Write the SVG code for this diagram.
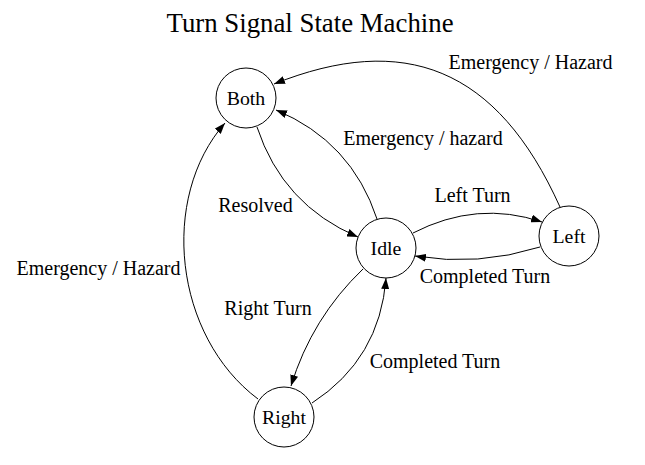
<svg xmlns="http://www.w3.org/2000/svg" width="645" height="465" viewBox="0 0 645 465">
<style>
text{font-family:"Liberation Serif","Times New Roman",serif;fill:#000}
.title{font-size:26.8px;text-anchor:middle}
.lbl{font-size:20px;text-anchor:middle}
.nl{font-size:19.8px;text-anchor:middle;dominant-baseline:central}
.node circle{fill:#fff;stroke:#000;stroke-width:1}
.edge{fill:none;stroke:#000;stroke-width:1;marker-end:url(#arr)}
</style>
<defs>
<marker id="arr" markerUnits="userSpaceOnUse" markerWidth="11" markerHeight="8" refX="11" refY="4" orient="auto">
<path d="M0,0 L11,4 L0,8 z" fill="#000"/>
</marker>
</defs>
<rect width="645" height="465" fill="#fff"/>
<text class="title" x="310" y="32">Turn Signal State Machine</text>
<g id="connectors">
<path class="edge" d="M560,207 C497,67 404,32 274,84"/>
<path class="edge" d="M377,219 Q351.5,141.5 276,110"/>
<path class="edge" d="M257,127 Q282.7,205.1 358,237"/>
<path class="edge" d="M413,233 Q477,200 542,222"/>
<path class="edge" d="M540,247 Q478,266.5 415,256"/>
<path class="edge" d="M363,269 Q311.7,318.1 291,386"/>
<path class="edge" d="M312,403 Q380,358.8 386,278"/>
<path class="edge" d="M258,399 C174,336 159,198 225,123"/>
</g>
<g id="edge-labels">
<text class="lbl" x="530.5" y="69">Emergency / Hazard</text>
<text class="lbl" x="423" y="145">Emergency / hazard</text>
<text class="lbl" x="255.5" y="212">Resolved</text>
<text class="lbl" x="472.5" y="202">Left Turn</text>
<text class="lbl" x="485" y="283">Completed Turn</text>
<text class="lbl" x="98.5" y="275">Emergency / Hazard</text>
<text class="lbl" x="268" y="315">Right Turn</text>
<text class="lbl" x="435" y="368">Completed Turn</text>
</g>
<g id="node-both" class="node"><circle cx="246" cy="98" r="30"/><text class="nl" x="246" y="98">Both</text></g>
<g id="node-idle" class="node"><circle cx="386" cy="248" r="30"/><text class="nl" x="386" y="248">Idle</text></g>
<g id="node-left" class="node"><circle cx="569" cy="236" r="30"/><text class="nl" x="569" y="236">Left</text></g>
<g id="node-right" class="node"><circle cx="284" cy="417" r="30"/><text class="nl" x="284" y="417">Right</text></g>
</svg>
